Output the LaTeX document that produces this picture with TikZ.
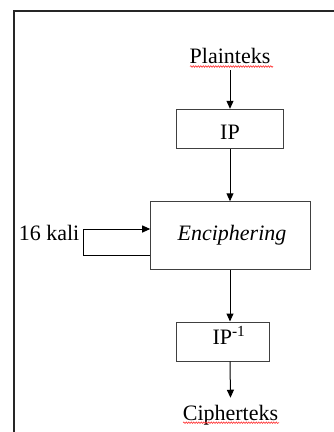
\documentclass[tikz,border=0pt]{standalone}
\usepackage{fontspec}
\setmainfont{Liberation Serif}
\usetikzlibrary{arrows.meta,decorations.pathmorphing}
\tikzset{
  teks/.style={font=\fontsize{22}{26}\selectfont, inner sep=0pt},
  blok/.style={draw=black!75, line width=1pt, inner sep=0pt},
  panah/.style={draw=black, line width=1pt, -{Triangle[length=8pt,width=7pt]}},
  bingkai/.style={draw=black!85, line width=2pt},
  salah/.style={draw=red!80, line width=0.6pt, decorate,
    decoration={snake, amplitude=0.8pt, segment length=2.5pt}}
}
\begin{document}
\begin{tikzpicture}[x=1pt, y=-1pt]
\useasboundingbox (0,0) rectangle (334,432);

% page frame
\draw[bingkai] (13.5,432) -- (13.5,11) -- (334,11);

% blocks
\node[blok, minimum width=106.6pt, minimum height=39pt] (ip) at (230,128.8) {};
\node[blok, minimum width=160pt, minimum height=67.3pt] (enc) at (230.7,235.4) {};
\node[blok, minimum width=93.3pt, minimum height=39pt] (ipinv) at (223.3,341.5) {};

% texts
\node[teks, anchor=base, outer sep=7pt] (plain) at (230,63) {Plainteks};
\node[teks, anchor=base] (iptext) at (230,139.3) {IP};
\node[teks, anchor=base] (enctext) at (232,240.7) {\itshape Enciphering};
\node[teks, anchor=base east] (kali) at (79.5,240.7) {16 kali};
\node[teks, anchor=base] (ipinvtext) at (229,344) {IP\textsuperscript{-1}};
\node[teks, anchor=base, outer sep=7pt] (cipher) at (230.5,420) {Cipherteks};

% spelling marks
\draw[salah] (190,66.5) -- (273,66.5);
\draw[salah] (183,422.7) -- (279,422.7);

% flow
\draw[panah] (plain.south) -- (ip.north);
\draw[panah] (ip.south) -- (ip.south |- enc.north);
\draw[panah] (ip.south |- enc.south) -- (ip.south |- ipinv.north);
\draw[panah] (ip.south |- ipinv.south) -- (cipher.north);

% round loop
\coordinate (kb) at (83.3,255);
\coordinate (ka) at (83.3,229);
\draw[panah] (enc.west |- kb) -- (kb) -- (ka) -- (enc.west |- ka);
\end{tikzpicture}
\end{document}
